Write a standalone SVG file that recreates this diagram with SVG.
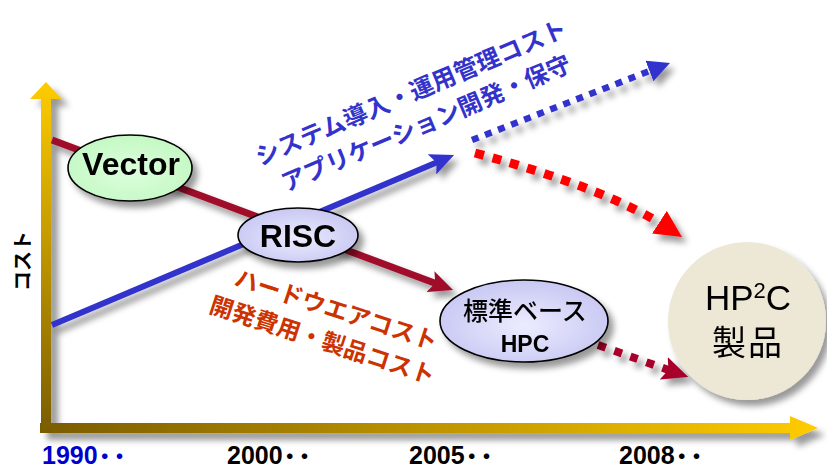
<svg xmlns="http://www.w3.org/2000/svg" width="827" height="471" viewBox="0 0 827 471">
<defs>
  <style>
    .jp { font-family: "Noto Sans CJK JP", "Noto Sans", sans-serif; }
    .lat { font-family: "Liberation Sans", Arial, sans-serif; }
    .node-line { stroke: #000; stroke-width: 1.6; }
    .blue-lbl { fill: #3333cc; font-size: 24px; font-weight: 700; }
    .red-lbl { fill: #cc3300; font-size: 23.5px; font-weight: 700; }
    .year { font-size: 25px; font-weight: 700; }
    .dots { font-size: 20px; letter-spacing: -5px; font-weight: 900; }
  </style>
  <filter id="sh" x="-20%" y="-20%" width="150%" height="160%">
    <feDropShadow dx="5" dy="6" stdDeviation="3" flood-color="#000" flood-opacity="0.4"/>
  </filter>
  <filter id="shAx" x="-10%" y="-10%" width="130%" height="130%">
    <feDropShadow dx="7" dy="7" stdDeviation="3" flood-color="#000" flood-opacity="0.4"/>
  </filter>
  <linearGradient id="gV" gradientUnits="userSpaceOnUse" x1="0" y1="433" x2="0" y2="82">
    <stop offset="0" stop-color="#7a5c00"/>
    <stop offset="1" stop-color="#ffcc00"/>
  </linearGradient>
  <linearGradient id="gH" gradientUnits="userSpaceOnUse" x1="40" y1="0" x2="818" y2="0">
    <stop offset="0" stop-color="#7a5c00"/>
    <stop offset="1" stop-color="#ffcc00"/>
  </linearGradient>
  <radialGradient id="gLav" cx="0.5" cy="0.55" r="0.6">
    <stop offset="0" stop-color="#ececff"/>
    <stop offset="1" stop-color="#c4c4f2"/>
  </radialGradient>
  <radialGradient id="gGreen" cx="0.5" cy="0.55" r="0.6">
    <stop offset="0" stop-color="#dcffdc"/>
    <stop offset="1" stop-color="#c2f7c2"/>
  </radialGradient>
  <marker id="mBlue" viewBox="0 0 24 22" refX="12" refY="11" markerWidth="24" markerHeight="22" markerUnits="userSpaceOnUse" orient="auto">
    <path d="M0,0 L24,11 L0,22 L5,11 z" fill="#3333cc"/>
  </marker>
  <marker id="mCrim" viewBox="0 0 24 22" refX="12" refY="11" markerWidth="24" markerHeight="22" markerUnits="userSpaceOnUse" orient="auto">
    <path d="M0,0 L24,11 L0,22 L5,11 z" fill="#a0102c"/>
  </marker>
  <marker id="mBlueDot" viewBox="0 0 22 22" refX="11" refY="11" markerWidth="22" markerHeight="22" markerUnits="userSpaceOnUse" orient="auto">
    <path d="M0,0 L22,11 L0,22 z" fill="#3333cc"/>
  </marker>
  <marker id="mRedDot" viewBox="0 0 27 27" refX="13.5" refY="13.5" markerWidth="27" markerHeight="27" markerUnits="userSpaceOnUse" orient="auto">
    <path d="M0,0 L27,13.5 L0,27 z" fill="#ff0000"/>
  </marker>
  <marker id="mCrimDot" viewBox="0 0 26 24" refX="13" refY="12" markerWidth="26" markerHeight="24" markerUnits="userSpaceOnUse" orient="auto">
    <path d="M0,0 L26,12 L0,24 L5,12 z" fill="#a8002a"/>
  </marker>
</defs>

<rect width="827" height="471" fill="#ffffff"/>

<g id="axes" filter="url(#shAx)">
  <rect x="40" y="423" width="752" height="10" fill="url(#gH)"/>
  <polygon points="790,416 818,428 790,440" fill="url(#gH)"/>
  <rect x="41" y="97" width="10" height="336" fill="url(#gV)"/>
  <polygon points="46,82 62,99 30,99" fill="url(#gV)"/>
</g>

<g id="connectors" filter="url(#sh)" fill="none">
  <line x1="52" y1="140" x2="441.8" y2="285.8" stroke="#a0102c" stroke-width="7" marker-end="url(#mCrim)"/>
  <line x1="52" y1="325" x2="443" y2="159.7" stroke="#3333cc" stroke-width="6" marker-end="url(#mBlue)"/>
  <line x1="472" y1="140" x2="659.7" y2="67" stroke="#3333cc" stroke-width="6.5" stroke-dasharray="7 7" marker-end="url(#mBlueDot)"/>
  <path d="M475,153 Q608,188.6 670.7,229.6" stroke="#ff0000" stroke-width="9" stroke-dasharray="9 9" marker-end="url(#mRedDot)"/>
  <path d="M598,345 Q640,360 676,372.6" stroke="#a8002a" stroke-width="8" stroke-dasharray="8 9" marker-end="url(#mCrimDot)"/>
</g>

<g id="node-vector" filter="url(#sh)">
  <ellipse cx="130" cy="168" rx="62" ry="33" fill="url(#gGreen)" class="node-line"/>
  <text x="131" y="175" text-anchor="middle" class="lat" font-size="32" font-weight="700" fill="#000">Vector</text>
</g>

<g id="node-risc" filter="url(#sh)">
  <ellipse cx="298" cy="235" rx="60" ry="27" fill="url(#gLav)" class="node-line"/>
  <text x="298" y="247" text-anchor="middle" class="lat" font-size="32" font-weight="700" fill="#000">RISC</text>
</g>

<g id="node-hpc" filter="url(#sh)">
  <ellipse cx="524" cy="321" rx="84" ry="41" fill="url(#gLav)" class="node-line"/>
  <text x="525" y="320" text-anchor="middle" class="jp" font-size="25" font-weight="500" fill="#000">標準ベース</text>
  <text x="525" y="352" text-anchor="middle" class="lat" font-size="23" font-weight="700" fill="#000">HPC</text>
</g>

<g id="node-hp2c" filter="url(#sh)">
  <circle cx="747" cy="321" r="79" fill="#ede8d5"/>
  <text x="748" y="310" text-anchor="middle" class="lat" font-size="35" fill="#000">HP<tspan font-size="22" dy="-12">2</tspan><tspan dy="12">C</tspan></text>
  <text x="748" y="355" text-anchor="middle" class="jp" font-size="34" fill="#000" letter-spacing="2">製品</text>
</g>

<g id="labels">
  <text class="jp blue-lbl" transform="translate(260,166) rotate(-23)">システム導入・運用管理コスト</text>
  <text class="jp blue-lbl" transform="translate(286,192) rotate(-23)">アプリケーション開発・保守</text>
  <text class="jp red-lbl" transform="translate(233,285) rotate(18)">ハードウエアコスト</text>
  <text class="jp red-lbl" transform="translate(208,312) rotate(18)">開発費用・製品コスト</text>
  <text class="jp" font-size="20" font-weight="700" fill="#000" text-anchor="middle" transform="translate(30,261) rotate(-90)">コスト</text>
</g>

<g id="years">
  <text x="42" y="464" class="lat year" fill="#0000cc">1990<tspan class="jp dots" dx="-3">・・</tspan></text>
  <text x="227" y="464" class="lat year" fill="#000">2000<tspan class="jp dots" dx="-3">・・</tspan></text>
  <text x="409" y="464" class="lat year" fill="#000">2005<tspan class="jp dots" dx="-3">・・</tspan></text>
  <text x="619" y="464" class="lat year" fill="#000">2008<tspan class="jp dots" dx="-3">・・</tspan></text>
</g>
</svg>
